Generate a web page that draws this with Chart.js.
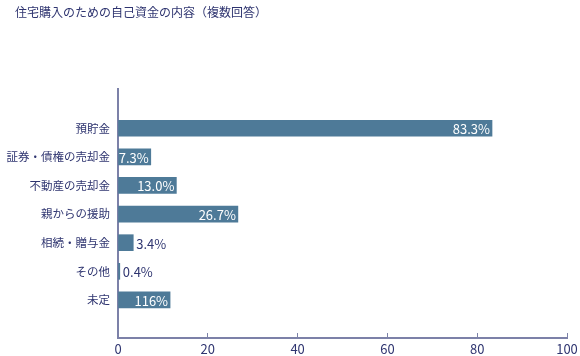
<!DOCTYPE html>
<html><head><meta charset="utf-8">
<script src="https://cdn.jsdelivr.net/npm/chart.js@4/dist/chart.umd.min.js"></script>
<style>html,body{margin:0;padding:0;background:#fff}#wrap{width:580px;height:356px}</style>
</head><body><div id="wrap"><canvas id="c" width="580" height="356"></canvas></div>
<script>
const TITLE = '住宅購入のための自己資金の内容（複数回答）';
const categories = ['預貯金','証券・債権の売却金','不動産の売却金','親からの援助','相続・贈与金','その他','未定'];
const values = [83.3, 7.3, 13.0, 26.7, 3.4, 0.4, 11.6];
const valueLabels = ['83.3%','7.3%','13.0%','26.7%','3.4%','0.4%','116%'];
const xTicks = [0,20,40,60,80,100];

const TEXT = '#2f3570';
const AXIS = '#7c81a8';
const BAR = '#4e7a98';
const FONT = '"Noto Sans CJK JP", "Noto Sans", sans-serif';
const Y_MIN = -1.37, Y_MAX = 7.33;

const titlePlugin = {
  id: 'titleText',
  afterDraw(chart) {
    const ctx = chart.ctx;
    ctx.save();
    ctx.font = '12px ' + FONT;
    ctx.fillStyle = TEXT;
    ctx.textAlign = 'left';
    ctx.textBaseline = 'middle';
    ctx.fillText(TITLE, 15, 12);
    ctx.restore();
  }
};
const labelPlugin = {
  id: 'valLabels',
  afterDatasetsDraw(chart) {
    const ctx = chart.ctx;
    const meta = chart.getDatasetMeta(0);
    ctx.save();
    ctx.font = '13px ' + FONT;
    ctx.textBaseline = 'middle';
    meta.data.forEach((bar, i) => {
      const v = values[i];
      if (v >= 5) {
        ctx.fillStyle = '#ffffff';
        ctx.textAlign = 'right';
        ctx.fillText(valueLabels[i], bar.x - 2, bar.y + 1);
      } else {
        ctx.fillStyle = TEXT;
        ctx.textAlign = 'left';
        ctx.fillText(valueLabels[i], bar.x + 3, bar.y + 1);
      }
    });
    ctx.restore();
  }
};

new Chart(document.getElementById('c'), {
  type: 'bar',
  data: {
    datasets: [{
      data: values.map((v, i) => ({x: v, y: i})),
      backgroundColor: BAR,
      borderWidth: 0,
      barThickness: 16
    }]
  },
  options: {
    indexAxis: 'y',
    responsive: false,
    animation: false,
    layout: {padding: {top: 89, right: 0, left: 0, bottom: 0}},
    plugins: {legend: {display: false}, tooltip: {enabled: false}, title: {display: false}},
    scales: {
      x: {
        type: 'linear', min: 0, max: 100, bounds: 'data',
        afterBuildTicks(s) { s.min = 0; s.max = 100; s.ticks = xTicks.map(v => ({value: v})); },
        afterFit(s) { s.height = 18; s.paddingRight = 13; s.paddingLeft = 0; },
        grid: {display: true, drawOnChartArea: false, drawTicks: true, tickLength: -5, color: AXIS, tickColor: AXIS},
        border: {display: true, color: AXIS, width: 2},
        ticks: {color: TEXT, font: {size: 13, family: FONT}, padding: 8, maxRotation: 0, autoSkip: false}
      },
      y: {
        type: 'linear', reverse: true, offset: false, min: Y_MIN, max: Y_MAX, bounds: 'data',
        afterDataLimits(s) { s.min = Y_MIN; s.max = Y_MAX; },
        afterBuildTicks(s) { s.min = Y_MIN; s.max = Y_MAX; s.ticks = categories.map((c, i) => ({value: i})); },
        afterFit(s) { s.width = 118; },
        grid: {display: false, drawTicks: false},
        border: {display: true, color: AXIS, width: 2},
        ticks: {color: TEXT, font: {size: 11.5, family: FONT}, padding: 8, autoSkip: false,
          callback: (v) => categories[v] !== undefined ? categories[v] : ''}
      }
    }
  },
  plugins: [titlePlugin, labelPlugin]
});
</script></body></html>
